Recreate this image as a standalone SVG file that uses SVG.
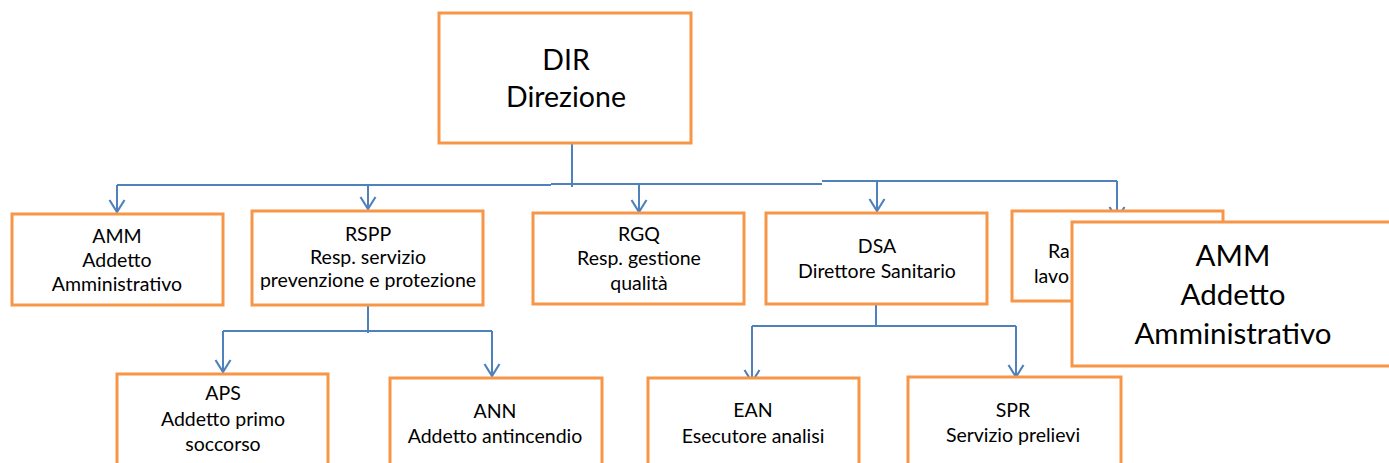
<svg xmlns="http://www.w3.org/2000/svg" width="1389" height="463" viewBox="0 0 1389 463">
<style>
.box{fill:#fff;stroke:#F79646;stroke-width:3}
.t{font-family:Lato,"Open Sans",sans-serif;font-size:19.5px;fill:#000;text-anchor:middle}
.tb{font-family:Lato,"Open Sans",sans-serif;font-size:28.5px;fill:#000;text-anchor:middle}
.tbb{font-family:Lato,"Open Sans",sans-serif;font-size:29.5px;fill:#000;text-anchor:middle}
.c{fill:none;stroke:#4F81BD;stroke-width:2}
.a{fill:none;stroke:#4F81BD;stroke-width:2;marker-end:url(#arr)}
</style>
<defs>
<marker id="arr" markerUnits="userSpaceOnUse" markerWidth="20" markerHeight="20" refX="0" refY="0" viewBox="-15 -10 20 20" orient="auto">
<path d="M-12,-7.5 L0,0 L-12,7.5" fill="none" stroke="#4F81BD" stroke-width="2.2"/>
</marker>
</defs>
<g id="connectors">
<path class="c" d="M572,143 V187"/>
<path class="c" d="M117,185 H551"/>
<path class="c" d="M551,184 H822"/>
<path class="c" d="M822,181 H1117"/>
<path class="a" d="M117,185 V212"/>
<path class="a" d="M368,185 V209"/>
<path class="a" d="M639,184 V212"/>
<path class="a" d="M877,181 V211"/>
<path class="a" d="M1117,181 V219"/>
<path class="c" d="M368,305 V333"/>
<path class="c" d="M223,331 H492"/>
<path class="a" d="M223,331 V372"/>
<path class="a" d="M492,331 V376"/>
<path class="c" d="M876,305 V326"/>
<path class="c" d="M752,326 H1016"/>
<path class="a" d="M752,326 V382"/>
<path class="a" d="M1016,326 V377"/>
</g>
<g id="DIR">
<rect class="box" x="439" y="13" width="252" height="130"/>
<text class="tb" x="566" y="70">DIR</text>
<text class="tb" x="566" y="107">Direzione</text>
</g>
<g id="AMM">
<rect class="box" x="12" y="214" width="211" height="91"/>
<text class="t" x="117" y="243">AMM</text>
<text class="t" x="117" y="267">Addetto</text>
<text class="t" x="117" y="291">Amministrativo</text>
</g>
<g id="RSPP">
<rect class="box" x="252" y="211" width="231" height="94"/>
<text class="t" x="368" y="241">RSPP</text>
<text class="t" x="368" y="264">Resp. servizio</text>
<text class="t" x="368" y="287">prevenzione e protezione</text>
</g>
<g id="RGQ">
<rect class="box" x="533" y="213" width="211" height="91"/>
<text class="t" x="639" y="241">RGQ</text>
<text class="t" x="639" y="265">Resp. gestione</text>
<text class="t" x="639" y="290">qualità</text>
</g>
<g id="DSA">
<rect class="box" x="766" y="213" width="221" height="91"/>
<text class="t" x="877" y="253">DSA</text>
<text class="t" x="877" y="278">Direttore Sanitario</text>
</g>
<g id="RLS">
<rect class="box" x="1012" y="211" width="211" height="90"/>
<text class="t" x="1048" y="258" style="text-anchor:start">Ra</text>
<text class="t" x="1034" y="283" style="text-anchor:start">lavo</text>
</g>
<g id="AMM2">
<rect class="box" x="1072" y="222" width="330" height="144"/>
<text class="tbb" x="1233" y="266">AMM</text>
<text class="tbb" x="1233" y="305">Addetto</text>
<text class="tbb" x="1233" y="344">Amministrativo</text>
</g>
<g id="APS">
<rect class="box" x="117" y="374" width="211" height="110"/>
<text class="t" x="223" y="400">APS</text>
<text class="t" x="223" y="426">Addetto primo</text>
<text class="t" x="223" y="451">soccorso</text>
</g>
<g id="ANN">
<rect class="box" x="390" y="378" width="212" height="110"/>
<text class="t" x="495" y="418">ANN</text>
<text class="t" x="495" y="443">Addetto antincendio</text>
</g>
<g id="EAN">
<rect class="box" x="648" y="378" width="211" height="110"/>
<text class="t" x="753" y="417">EAN</text>
<text class="t" x="753" y="443">Esecutore analisi</text>
</g>
<g id="SPR">
<rect class="box" x="908" y="377" width="213" height="110"/>
<text class="t" x="1013" y="417">SPR</text>
<text class="t" x="1013" y="442">Servizio prelievi</text>
</g>
</svg>
